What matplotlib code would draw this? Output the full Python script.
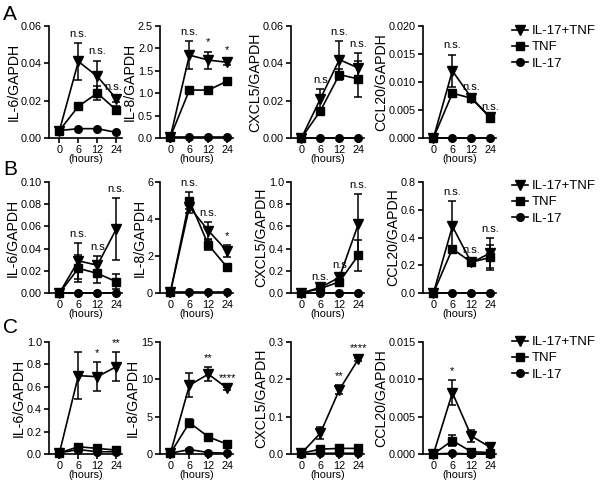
import matplotlib
matplotlib.use("Agg")
import matplotlib.pyplot as plt
from matplotlib.lines import Line2D
from matplotlib.ticker import FormatStrFormatter, MultipleLocator

plt.rcParams["font.family"] = ["Liberation Sans", "DejaVu Sans"]

# x categories and treatment groups (order: IL-17+TNF, TNF, IL-17)
hours = ["0", "6", "12", "24"]
groups = ["IL-17+TNF", "TNF", "IL-17"]

# ---- row A ----
a_il6_mean = [[0.004, 0.041, 0.033, 0.021], [0.004, 0.017, 0.024, 0.015], [0.004, 0.005, 0.005, 0.003]]
a_il6_err = [[0, 0.010, 0.0085, 0.0015], [0, 0.0015, 0.0037, 0.002], [0, 0, 0, 0]]
a_il8_mean = [[0.03, 1.85, 1.74, 1.69], [0.03, 1.07, 1.07, 1.27], [0.02, 0.02, 0.02, 0.02]]
a_il8_err = [[0, 0.32, 0.19, 0.07], [0, 0.03, 0.03, 0.08], [0, 0, 0, 0]]
a_cxcl5_mean = [[0.0, 0.021, 0.042, 0.0375], [0.0, 0.0145, 0.034, 0.0316], [0, 0, 0, 0]]
a_cxcl5_err = [[0, 0.005, 0.010, 0.008], [0, 0.001, 0.003, 0.0095], [0, 0, 0, 0]]
a_ccl20_mean = [[0.0, 0.012, 0.0072, 0.0037], [0.0, 0.0080, 0.0071, 0.0036], [0, 0, 0, 0]]
a_ccl20_err = [[0, 0.0029, 0.0003, 0.0002], [0, 0.0006, 0.0003, 0.0002], [0, 0, 0, 0]]

# ---- row B ----
b_il6_mean = [[0.0, 0.029, 0.025, 0.0577], [0.0, 0.0222, 0.0177, 0.0102], [0, 0, 0, 0]]
b_il6_err = [[0, 0.016, 0.008, 0.028], [0, 0.012, 0.009, 0.007], [0, 0, 0, 0]]
b_il8_mean = [[0.05, 4.65, 3.37, 2.25], [0.05, 5.0, 2.6, 1.38], [0.05, 0.05, 0.05, 0.05]]
b_il8_err = [[0, 0.3, 0.45, 0.32], [0, 0.45, 0.25, 0.08], [0, 0, 0, 0]]
b_cxcl5_mean = [[0.0, 0.05, 0.14, 0.62], [0.0, 0.04, 0.10, 0.34], [0, 0, 0, 0]]
b_cxcl5_err = [[0, 0.01, 0.03, 0.27], [0, 0.01, 0.02, 0.14], [0, 0, 0, 0]]
b_ccl20_mean = [[0.0, 0.48, 0.22, 0.287], [0.0, 0.318, 0.222, 0.256], [0, 0, 0, 0]]
b_ccl20_err = [[0, 0.18, 0.02, 0.11], [0, 0.01, 0.02, 0.09], [0, 0, 0, 0]]

# ---- row C ----
c_il6_mean = [[0.01, 0.70, 0.69, 0.78], [0.01, 0.065, 0.05, 0.035], [0.01, 0.04, 0.02, 0.02]]
c_il6_err = [[0, 0.21, 0.13, 0.13], [0, 0.01, 0.01, 0.01], [0, 0, 0, 0]]
c_il8_mean = [[0.1, 9.2, 10.7, 8.8], [0.1, 4.2, 2.3, 1.3], [0.1, 0.6, 0.2, 0.1]]
c_il8_err = [[0, 1.6, 0.9, 0.2], [0, 0.5, 0.1, 0.1], [0, 0.1, 0, 0]]
c_cxcl5_mean = [[0.002, 0.056, 0.172, 0.254], [0.002, 0.013, 0.015, 0.015], [0.0, 0.002, 0.002, 0.002]]
c_cxcl5_err = [[0, 0.015, 0.012, 0.004], [0, 0.002, 0.002, 0.002], [0, 0, 0, 0]]
c_ccl20_mean = [[0.0, 0.0082, 0.0024, 0.0009], [0.0, 0.0018, 0.0003, 0.0002], [0.0, 0.0001, 0.0, 0.0]]
c_ccl20_err = [[0, 0.0017, 0.0008, 0.0003], [0, 0.0007, 0.0001, 0.0001], [0, 0, 0, 0]]

# significance marks: (time index, text)
a_marks = [[(1, "n.s."), (2, "n.s."), (3, "n.s.")],
           [(1, "n.s."), (2, "*"), (3, "*")],
           [(1, "n.s"), (2, "n.s."), (3, "n.s.")],
           [(1, "n.s."), (2, "n.s."), (3, "n.s.")]]
b_marks = [[(1, "n.s."), (2, "n.s"), (3, "n.s.")],
           [(1, "n.s."), (2, "n.s."), (3, "*")],
           [(1, "n.s."), (2, "n.s"), (3, "n.s.")],
           [(1, "n.s."), (2, "n.s."), (3, "n.s.")]]
c_marks = [[(2, "*"), (3, "**")],
           [(2, "**"), (3, "****")],
           [(2, "**"), (3, "****")],
           [(1, "*")]]

ylabels = ["IL-6/GAPDH", "IL-8/GAPDH", "CXCL5/GAPDH", "CCL20/GAPDH"]

# per panel: (means, errs, ymax, tick step, tick format)
rows = [
    ("A", a_marks, [
        (a_il6_mean, a_il6_err, 0.06, 0.02, "%.2f"),
        (a_il8_mean, a_il8_err, 2.5, 0.5, "%.1f"),
        (a_cxcl5_mean, a_cxcl5_err, 0.06, 0.02, "%.2f"),
        (a_ccl20_mean, a_ccl20_err, 0.02, 0.005, "%.3f"),
    ]),
    ("B", b_marks, [
        (b_il6_mean, b_il6_err, 0.10, 0.02, "%.2f"),
        (b_il8_mean, b_il8_err, 6, 2, "%d"),
        (b_cxcl5_mean, b_cxcl5_err, 1.0, 0.2, "%.1f"),
        (b_ccl20_mean, b_ccl20_err, 0.8, 0.2, "%.1f"),
    ]),
    ("C", c_marks, [
        (c_il6_mean, c_il6_err, 1.0, 0.2, "%.1f"),
        (c_il8_mean, c_il8_err, 15, 5, "%d"),
        (c_cxcl5_mean, c_cxcl5_err, 0.3, 0.1, "%.1f"),
        (c_ccl20_mean, c_ccl20_err, 0.015, 0.005, "%.3f"),
    ]),
]

# small horizontal nudges (points) for crowded marks: (row, col, index)
mark_nudge = {(0, 0, 3): -2.5}

W, H = 601, 488
fig = plt.figure(figsize=(W / 100, H / 100), dpi=100)

# pixel layout (top, bottom) of each row and left edge of each column
row_px = [(26, 138), (182, 293), (342, 454)]
col_px = [49, 160, 291, 423]
ax_w = 73
legend_top = [25, 180, 336]
label_y = [5, 160, 318]

markers = ["v", "s", "o"]
msizes = [6.5, 5.5, 5.5]
xs = list(range(len(hours)))

# legend keys: plain line with marker, no error bar
leg_handles = [Line2D([], [], color="black", lw=1.2, marker=m, ms=s)
               for m, s in zip(markers, msizes)]

for r, (letter, marks, panels) in enumerate(rows):
    top, bot = row_px[r]
    for c, (means, errs, ymax, step, fmt) in enumerate(panels):
        ax = fig.add_axes([col_px[c] / W, 1 - bot / H, ax_w / W, (bot - top) / H])
        for g in range(3):
            ax.errorbar(xs, means[g], yerr=errs[g], color="black", lw=1.2,
                        marker=markers[g], ms=msizes[g], capsize=2.8,
                        elinewidth=1.1, capthick=1.1, clip_on=False, zorder=3 + g)
        ax.set_xlim(-0.55, 3.3)
        ax.set_ylim(0, ymax)
        ax.yaxis.set_major_locator(MultipleLocator(step))
        ax.yaxis.set_major_formatter(FormatStrFormatter(fmt))
        ax.set_xticks(xs)
        ax.set_xticklabels(hours)
        for s in ["top", "right"]:
            ax.spines[s].set_visible(False)
        for s in ["left", "bottom"]:
            ax.spines[s].set_linewidth(1.2)
        ax.tick_params(axis="both", width=1.2, length=3.5, labelsize=7.8, pad=1.5)
        ax.set_xlabel("(hours)", fontsize=7.8, labelpad=-0.5)
        ax.set_ylabel(ylabels[c], fontsize=10.2, labelpad=0.5)

        # significance text above the highest error bar
        for i, txt in marks[c]:
            ytop = max(means[g][i] + errs[g][i] for g in range(3))
            dx = mark_nudge.get((r, c, i), 0)
            ax.annotate(txt, (i, ytop), xytext=(dx, 3), textcoords="offset points",
                        ha="center", va="bottom", fontsize=8, annotation_clip=False)

        if c == 3:
            fig.legend(handles=leg_handles, labels=groups, loc="upper left",
                       bbox_to_anchor=(512 / W, 1 - legend_top[r] / H),
                       frameon=False, fontsize=9.5, handlelength=1.2,
                       handletextpad=0.3, labelspacing=0.3, borderpad=0,
                       borderaxespad=0)

    fig.text(3 / W, 1 - label_y[r] / H, letter, fontsize=15, va="top", ha="left")

fig.savefig("out.png", dpi=100)
